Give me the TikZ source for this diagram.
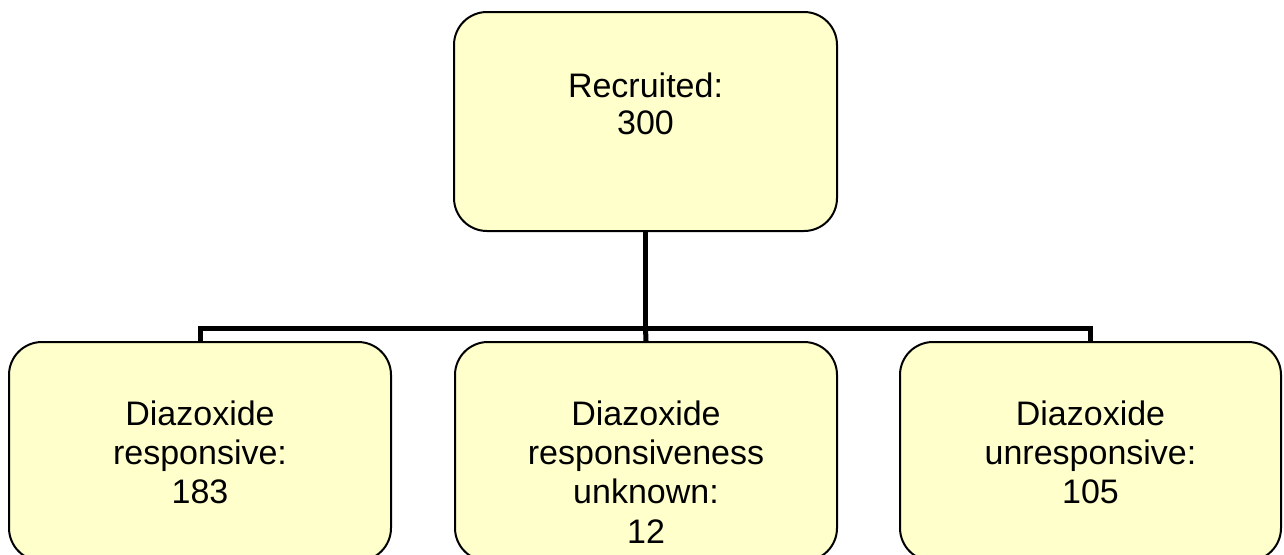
\documentclass[tikz,border=0pt]{standalone}
\usepackage{fontspec}
\setmainfont{Liberation Sans}
\definecolor{boxfill}{HTML}{FFFFCC}
\begin{document}
\begin{tikzpicture}[x=1pt,y=-1pt,
  box/.style={draw=black, line width=2pt, fill=boxfill, rounded corners=33pt,
    minimum width=383pt, minimum height=219pt, inner sep=0pt},
  lbl/.style={font=\fontsize{34}{39.3}\selectfont, align=center, anchor=north, inner sep=0pt},
  link/.style={line width=5pt}]
  \useasboundingbox (0,0) rectangle (1284,554);

  % boxes (outlines first, links drawn under their fills below)
  \path (645.5,121.5) coordinate (topc);
  \path (200,451.5) coordinate (leftc);
  \path (646,451.5) coordinate (midc);
  \path (1090.5,451.5) coordinate (rightc);
  \coordinate (junction) at (645.5,328);

  \node[box] (top) at (topc) {};
  \node[box, minimum width=382pt] (left) at (leftc) {};
  \node[box, minimum width=382pt] (mid) at (midc) {};
  \node[box, minimum width=381pt] (right) at (rightc) {};

  % tree links
  \draw[link] (top.south) -- (junction);
  \draw[link] (left.north) |- (junction) -| (right.north);
  \draw[link] (junction) -- (mid.north);

  % labels
  \node[lbl, font=\fontsize{34}{37.3}\selectfont] (toptxt) at (645.5,72.5) {Recruited:\\300};
  \node[lbl] (lefttxt) at (200,400.5) {Diazoxide\\responsive:\\183};
  \node[lbl] (midtxt) at (646,400.5) {Diazoxide\\responsiveness\\unknown:\\12};
  \node[lbl] (righttxt) at (1090.5,400.5) {Diazoxide\\unresponsive:\\105};
\end{tikzpicture}
\end{document}
